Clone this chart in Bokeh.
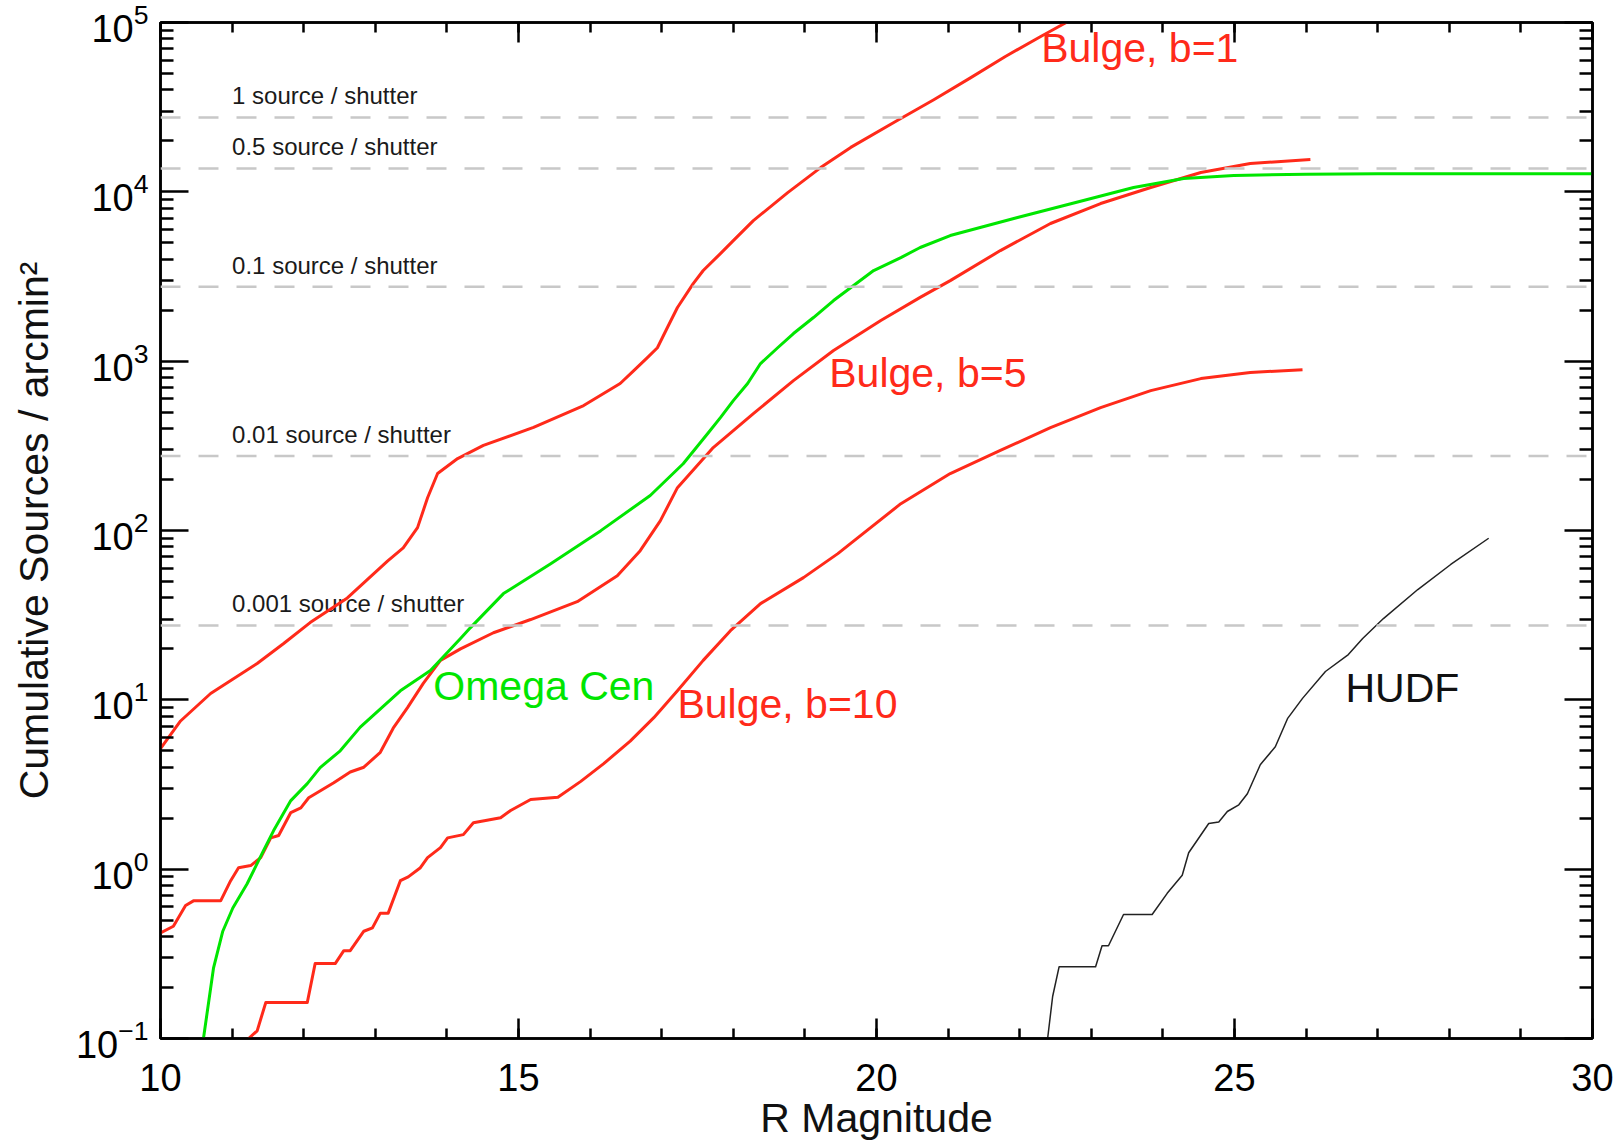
from bokeh.plotting import figure
from bokeh.models import (LinearAxis, LogAxis, FixedTicker, Span, Range1d,
                          CustomJSTickFormatter, ColumnDataSource)
from bokeh.core.properties import value
from bokeh.embed import file_html
from bokeh.resources import INLINE

# ---------------- data ----------------
b1_mag = [10.0, 10.28, 10.70, 11.35, 11.72, 12.09, 12.61, 13.17, 13.39, 13.59, 13.73,
          13.87, 14.15, 14.51, 15.21, 15.91, 16.42, 16.61, 16.80, 16.94, 17.08, 17.22,
          17.44, 17.58, 17.82, 18.0, 18.28, 18.76, 19.22, 19.64, 20.29, 20.8, 21.3,
          21.8, 22.3, 22.65]
b1_n = [5.15, 7.5, 10.9, 16.4, 21.5, 28.6, 40, 66, 79, 104, 156,
        217, 266, 318, 406, 547, 738, 879, 1050, 1200, 1580, 2075,
        2870, 3430, 4320, 5150, 6760, 9900, 13900, 18300, 26400, 35000, 46800,
        63000, 83000, 100000]

om_mag = [10.60, 10.74, 10.87, 11.01, 11.21, 11.44, 11.58, 11.82, 12.05, 12.23, 12.51,
          12.79, 13.35, 13.77, 14.19, 14.33, 14.79, 15.45, 16.15, 16.84, 17.30, 17.64,
          17.82, 18.00, 18.20, 18.38, 18.62, 18.84, 19.12, 19.40, 19.96, 20.34, 20.61,
          21.03, 21.97, 22.89, 23.59, 24.29, 24.99, 26.0, 27.0, 28.0, 29.0, 30.0]
om_n = [0.1, 0.26, 0.43, 0.59, 0.82, 1.29, 1.69, 2.54, 3.2, 3.98, 5.0,
        6.9, 11.3, 14.9, 23, 26.7, 42.4, 63.7, 99.8, 161, 248, 373,
        464, 585, 738, 968, 1200, 1456, 1810, 2280, 3430, 4090, 4690,
        5520, 7050, 8890, 10600, 12000, 12500, 12700, 12800, 12800, 12800, 12800]

b5_mag = [10.0, 10.18, 10.35, 10.46, 10.84, 10.98, 11.09, 11.26, 11.40, 11.54, 11.65,
          11.82, 11.96, 12.07, 12.42, 12.65, 12.84, 13.07, 13.25, 13.45, 13.67, 13.91,
          14.19, 14.65, 15.17, 15.82, 16.38, 16.70, 16.98, 17.22, 17.72, 18.28, 18.84,
          19.40, 20.06, 20.61, 21.03, 21.73, 22.43, 23.13, 23.83, 24.53, 25.22, 26.06]
b5_n = [0.42, 0.46, 0.61, 0.65, 0.65, 0.855, 1.02, 1.05, 1.17, 1.53, 1.58,
        2.16, 2.3, 2.64, 3.24, 3.75, 4.0, 4.9, 6.8, 9.0, 12.5, 17.1,
        20, 24.9, 29.8, 38, 54, 76, 114, 179, 309, 490, 768,
        1155, 1740, 2380, 2990, 4500, 6500, 8530, 10600, 13000, 14700, 15500]

b10_mag = [11.23, 11.35, 11.47, 12.05, 12.16, 12.44, 12.56, 12.65, 12.84, 12.96, 13.07,
           13.18, 13.35, 13.46, 13.63, 13.73, 13.91, 14.01, 14.23, 14.37, 14.75, 14.89,
           15.17, 15.55, 15.87, 16.19, 16.56, 16.89, 17.22, 17.58, 17.96, 18.38, 18.98,
           19.46, 19.64, 20.34, 21.03, 21.73, 22.43, 23.13, 23.83, 24.53, 25.22, 25.95]
b10_n = [0.1, 0.111, 0.163, 0.163, 0.277, 0.277, 0.33, 0.33, 0.43, 0.45, 0.55,
         0.55, 0.855, 0.9, 1.02, 1.17, 1.34, 1.53, 1.6, 1.88, 2.01, 2.22,
         2.58, 2.66, 3.3, 4.2, 5.7, 7.85, 11.3, 17.1, 25.6, 37, 52.7,
         73, 84, 144, 217, 297, 405, 532, 670, 789, 857, 891]

hudf_mag = [22.39, 22.46, 22.55, 23.06, 23.15, 23.24, 23.45, 23.85, 24.06, 24.27, 24.36,
            24.64, 24.78, 24.90, 25.06, 25.18, 25.36, 25.57, 25.74, 25.95, 26.27, 26.59,
            26.79, 27.08, 27.56, 28.02, 28.55]
hudf_n = [0.1, 0.177, 0.265, 0.265, 0.353, 0.353, 0.54, 0.54, 0.72, 0.92, 1.25,
          1.86, 1.9, 2.19, 2.4, 2.79, 4.14, 5.28, 7.74, 10.2, 14.7, 18.5,
          23, 30.2, 44.8, 63, 90]

shutter_levels = [27500, 13750, 2750, 275, 27.5]
shutter_labels = ["1 source / shutter", "0.5 source / shutter", "0.1 source / shutter",
                  "0.01 source / shutter", "0.001 source / shutter"]
shutter_label_x = [11.0] * 5

curve_labels = ["Bulge, b=1", "Bulge, b=5", "Omega Cen", "Bulge, b=10", "HUDF"]
curve_label_x = [22.30, 19.34, 13.81, 17.22, 26.55]
curve_label_y = [71100, 851, 12.05, 9.43, 11.7]
curve_label_color = ["#ff2a1a", "#ff2a1a", "#00e600", "#ff2a1a", "#111111"]

x_major = [10, 15, 20, 25, 30]
x_minor = list(range(10, 31))
y_major = [0.1, 1, 10, 100, 1000, 10000, 100000]
y_minor = [m * 10.0 ** e for e in range(-1, 5) for m in range(2, 10)]

RED = "#ff2a1a"
GREEN = "#00e600"
FONT = "Liberation Sans"

# ---------------- figure ----------------
p = figure(width=1620, height=1144,
           x_range=Range1d(10, 30), y_range=Range1d(0.1, 1e5),
           y_axis_type="log", output_backend="svg", toolbar_location=None,
           min_border_left=160, min_border_right=28, min_border_top=22,
           min_border_bottom=106)
p.xgrid.visible = False
p.ygrid.visible = False
p.background_fill_color = "white"
p.border_fill_color = "white"
p.outline_line_color = "black"
p.outline_line_width = 2.5

# shutter reference lines
for lvl in shutter_levels:
    p.add_layout(Span(location=lvl, dimension="width", line_color="#c8c8c8",
                      line_width=2.5, line_dash="20 18"))

p.text(x=shutter_label_x, y=shutter_levels, text=shutter_labels,
       text_font=value(FONT), text_font_size="24px", text_color="#1a1a1a",
       text_align="left", text_baseline="bottom", y_offset=-8)

# curves
p.line(b1_mag, b1_n, line_color=RED, line_width=3, line_join="round")
p.line(b5_mag, b5_n, line_color=RED, line_width=3, line_join="round")
p.line(b10_mag, b10_n, line_color=RED, line_width=3, line_join="round")
p.line(om_mag, om_n, line_color=GREEN, line_width=3, line_join="round")
p.line(hudf_mag, hudf_n, line_color="#222222", line_width=1.5, line_join="round")

lab_src = ColumnDataSource(dict(x=curve_label_x, y=curve_label_y, t=curve_labels,
                                c=curve_label_color))
p.text(x="x", y="y", text="t", text_color="c", source=lab_src,
       text_font=value(FONT), text_font_size="41px",
       text_align="left", text_baseline="alphabetic")

# ---------------- axes ----------------
def style(ax, major_in, minor_in):
    ax.axis_line_color = "black"
    ax.axis_line_width = 2.5
    ax.major_tick_line_color = "black"
    ax.minor_tick_line_color = "black"
    ax.major_tick_line_width = 2.5
    ax.minor_tick_line_width = 2.5
    ax.major_tick_in = major_in
    ax.major_tick_out = 0
    ax.minor_tick_in = minor_in
    ax.minor_tick_out = 0
    ax.major_label_text_font = FONT
    ax.major_label_text_font_size = "38px"
    ax.major_label_text_color = "black"
    ax.axis_label_text_font = FONT
    ax.axis_label_text_font_size = "41px"
    ax.axis_label_text_font_style = "normal"
    ax.axis_label_text_color = "#111111"

xax = p.xaxis[0]
xax.ticker = FixedTicker(ticks=x_major, minor_ticks=x_minor)
style(xax, 20, 10)
xax.axis_label = "R Magnitude"
xax.major_label_standoff = 25
xax.axis_label_standoff = 1

yax = p.yaxis[0]
yax.ticker = FixedTicker(ticks=y_major, minor_ticks=y_minor)
style(yax, 28, 13)
yax.axis_label = "Cumulative Sources / arcmin\u00b2"
yax.major_label_standoff = 12
yax.axis_label_standoff = 16

top = LinearAxis(ticker=FixedTicker(ticks=x_major, minor_ticks=x_minor),
                 formatter=CustomJSTickFormatter(code="return ''"))
style(top, 20, 10)
top.major_label_standoff = 0
p.add_layout(top, "above")

right = LogAxis(ticker=FixedTicker(ticks=y_major, minor_ticks=y_minor),
                formatter=CustomJSTickFormatter(code="return ''"))
style(right, 28, 13)
right.major_label_standoff = 0
p.add_layout(right, "right")

open("out.html", "w").write(file_html(p, INLINE))
